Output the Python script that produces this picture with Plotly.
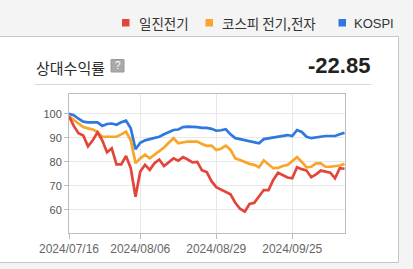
import plotly.graph_objects as go

# ---- data ----
tick_labels = ["2024/07/16", "2024/08/06", "2024/08/29", "2024/09/25"]
tick_index = [0, 15, 31, 47]

iljin = [99, 95, 92, 91, 86.5, 89, 92.3, 89, 84, 85.7, 79, 79, 82.5, 77.4, 65.5,
         76, 78.8, 76.7, 79.5, 81, 78.3, 80, 81.5, 80.5, 82, 81, 79.8, 80, 76.5, 75.8,
         72, 69.5, 68.5, 67.8, 66.5, 63, 60.5, 59.3, 62.5, 63, 65.5, 68.3, 68.3, 72.5,
         75.5, 74.5, 73.5, 73.2, 77.8, 77, 76.4, 73.6, 74.8, 76.4, 76, 75.5, 73.2, 77.4, 77.15]
sector = [99, 97.5, 96, 94.5, 94, 93.5, 92.5, 90.5, 90.5, 90.5, 90.5, 91.5, 92.6, 89, 79.5,
          81.5, 83, 81.5, 83, 84.3, 86, 88, 89.9, 87.8, 88.2, 88.5, 88.5, 88.5, 87.5, 86.7,
          86.8, 85, 85.5, 86.8, 85, 81.5, 80.8, 80, 79.2, 78.8, 77.8, 80.6, 79, 77.4,
          77.5, 78.3, 78.75, 80.5, 82, 80, 77.8, 78, 79.4, 79.4, 78, 78, 78.2, 78.5, 79.2]
kospi = [100, 99.5, 98, 96.8, 96.5, 96.5, 96.5, 95, 95.8, 96, 95.5, 96.5, 97.2, 94, 85.3,
         88, 89, 89.5, 90, 90.5, 91.5, 92.5, 93.3, 93.5, 94.5, 94.7, 94.7, 94.5, 94.2, 94.2,
         93.8, 93, 93.2, 93.6, 91.5, 89.9, 89.5, 89, 88.5, 88, 87.8, 89.5, 89.9, 90.2,
         90.5, 91, 91.2, 90.8, 93.3, 92.5, 90.5, 89.9, 90.2, 90.8, 90.8, 90.8, 90.8, 91.5, 92.2]
names = ["일진전기", "코스피 전기,전자", "KOSPI"]
colors = ["#e4453b", "#f8a52a", "#2e78e0"]
relative_return = "-22.85"

x = list(range(len(iljin)))

fig = go.Figure()
for ys, nm, c in [(kospi, names[2], colors[2]), (sector, names[1], colors[1]), (iljin, names[0], colors[0])]:
    fig.add_trace(go.Scatter(x=x, y=ys, name=nm, mode="lines",
                             line=dict(color=c, width=2.7), showlegend=False,
                             hoverinfo="skip"))

# plot area: x 69..345, y 94..233 in a 413x269 page
L, R, T, B = 69, 345, 94, 233
W, H = R - L, B - T
def px(v):
    return (v - L) / W
def py(v):
    return (B - v) / H

shapes = [
    # white panel
    dict(type="rect", xref="paper", yref="paper", x0=px(-2), x1=px(398.5), y0=py(262.5), y1=py(36.5),
         fillcolor="white", line=dict(color="#c6c6c6", width=1), layer="below"),
    # separator under title
    dict(type="line", xref="paper", yref="paper", x0=px(35), x1=px(371.5), y0=py(84.5), y1=py(84.5),
         line=dict(color="#d8d8d8", width=1)),
    # help icon
    dict(type="rect", xref="paper", yref="paper", x0=px(111), x1=px(124), y0=py(72), y1=py(59.5),
         fillcolor="#a9a9a9", line=dict(color="#9a9a9a", width=1)),
]
# legend squares
for sx, c in [(122, colors[0]), (205.5, colors[1]), (338.5, colors[2])]:
    shapes.append(dict(type="rect", xref="paper", yref="paper", x0=px(sx), x1=px(sx + 7.5),
                       y0=py(26.5), y1=py(19), fillcolor=c, line=dict(width=0)))

font_kr = "Noto Sans CJK KR"
annotations = [
    dict(text="상대수익률", x=px(34), y=py(67), xanchor="left", yanchor="middle",
         font=dict(family=font_kr, size=15, color="#2a2a2a")),
    dict(text="?", x=px(117.5), y=py(66), xanchor="center", yanchor="middle",
         font=dict(family="Liberation Sans", size=10, color="white")),
    dict(text="<b>" + relative_return + "</b>", x=px(372), y=py(66), xanchor="right", yanchor="middle",
         font=dict(family="Liberation Sans", size=22, color="#222222")),
]
for tx, t in [(137, names[0]), (220, names[1]), (352, names[2])]:
    annotations.append(dict(text=t, x=px(tx), y=py(23), xanchor="left", yanchor="middle",
                            font=dict(family=font_kr if t != "KOSPI" else "Liberation Sans",
                                      size=13.5 if t != "KOSPI" else 13, color="#333333")))
for a in annotations:
    a.update(xref="paper", yref="paper", showarrow=False)

fig.update_layout(
    width=413, height=269,
    margin=dict(l=L, r=413 - R, t=T, b=269 - B),
    paper_bgcolor="#f4f4f4", plot_bgcolor="white",
    shapes=shapes, annotations=annotations,
    xaxis=dict(range=[0, 58.1], tickvals=tick_index, ticktext=tick_labels,
               showgrid=True, gridcolor="#e8e8e8", zeroline=False,
               showline=True, linecolor="#bcbcbc", mirror=True,
               ticks="outside", ticklen=5, tickcolor="#bcbcbc",
               tickfont=dict(family="Liberation Sans", size=12, color="#666666")),
    yaxis=dict(range=[50.4, 108.3], tickvals=[60, 70, 80, 90, 100],
               showgrid=True, gridcolor="#e8e8e8", zeroline=False,
               showline=True, linecolor="#bcbcbc", mirror=True,
               ticks="outside", ticklen=4, tickcolor="#bcbcbc",
               tickfont=dict(family="Liberation Sans", size=11, color="#555555")),
)

fig.write_html("out.html")
